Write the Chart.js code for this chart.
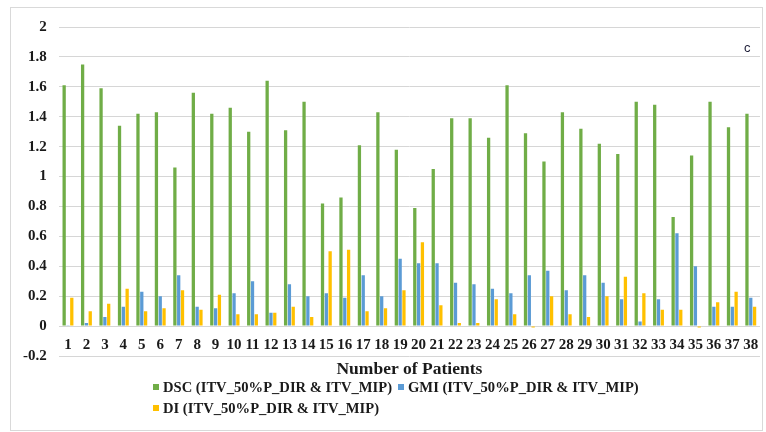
<!DOCTYPE html>
<html>
<head>
<meta charset="utf-8">
<script src="https://cdn.jsdelivr.net/npm/chart.js@4/dist/chart.umd.min.js"></script>
<style>
  html, body { margin: 0; padding: 0; background: #ffffff; }
  #wrap { position: relative; width: 766px; height: 432px; overflow: hidden; background: #ffffff; }
  #frame { position: absolute; left: 10px; top: 7px; width: 753px; height: 424px; border: 1px solid #d9d9d9; box-sizing: border-box; pointer-events: none; }
  canvas { position: absolute; left: 0; top: 0; }
  .lg { position: absolute; display: flex; align-items: center; white-space: nowrap;
        font: bold 14.6px "Liberation Serif", "Times New Roman", serif; line-height: 16px; color: #1a1a1a; }
  .lg i { display: inline-block; width: 6px; height: 6px; margin-right: 4px; }
  #tag { position: absolute; left: 744px; top: 40px; font: 13px "Liberation Sans", Arial, sans-serif; line-height: 15px; color: #1c1c36; }
</style>
</head>
<body>
<div id="wrap">
  <div id="frame"></div>
  <canvas id="chart" width="766" height="432"></canvas>
  <div id="tag">c</div>
</div>
<script>
// Patient numbers along the category axis
const patients = ['1','2','3','4','5','6','7','8','9','10','11','12','13','14','15','16','17','18','19',
                  '20','21','22','23','24','25','26','27','28','29','30','31','32','33','34','35','36','37','38'];

// Dice similarity coefficient per patient
const dsc = [1.61, 1.75, 1.59, 1.34, 1.42, 1.43, 1.06, 1.56, 1.42, 1.46, 1.30, 1.64, 1.31, 1.50, 0.82, 0.86, 1.21, 1.43, 1.18,
             0.79, 1.05, 1.39, 1.39, 1.26, 1.61, 1.29, 1.10, 1.43, 1.32, 1.22, 1.15, 1.50, 1.48, 0.73, 1.14, 1.50, 1.33, 1.42];

// Geographical miss index per patient
const gmi = [0.005, 0.02, 0.06, 0.13, 0.23, 0.20, 0.34, 0.13, 0.12, 0.22, 0.30, 0.09, 0.28, 0.20, 0.22, 0.19, 0.34, 0.20, 0.45,
             0.42, 0.42, 0.29, 0.28, 0.25, 0.22, 0.34, 0.37, 0.24, 0.34, 0.29, 0.18, 0.03, 0.18, 0.62, 0.40, 0.13, 0.13, 0.19];

// Discordance index per patient
const di = [0.19, 0.10, 0.15, 0.25, 0.10, 0.12, 0.24, 0.11, 0.21, 0.08, 0.08, 0.09, 0.13, 0.06, 0.50, 0.51, 0.10, 0.12, 0.24,
            0.56, 0.14, 0.02, 0.02, 0.18, 0.08, -0.01, 0.20, 0.08, 0.06, 0.20, 0.33, 0.22, 0.11, 0.11, -0.01, 0.16, 0.23, 0.13];

// Series names
const seriesNames = ['DSC (ITV_50%P_DIR & ITV_MIP)', 'GMI (ITV_50%P_DIR & ITV_MIP)', 'DI (ITV_50%P_DIR & ITV_MIP)'];

// Value axis ticks
const yMin = -0.2, yMax = 2, yStep = 0.2;

const colors = ['#70AD47', '#5B9BD5', '#FFC000'];
const serif = '"Liberation Serif", "Times New Roman", serif';

const chart = new Chart(document.getElementById('chart'), {
  type: 'bar',
  data: {
    labels: patients,
    datasets: [dsc, gmi, di].map((values, i) => ({
      label: seriesNames[i],
      data: values,
      backgroundColor: colors[i],
      borderWidth: 0,
      barPercentage: 0.86,
      categoryPercentage: 0.62
    }))
  },
  options: {
    responsive: false,
    animation: false,
    devicePixelRatio: 1,
    layout: { padding: { left: 11, right: 6, top: 27, bottom: 76 } },
    plugins: {
      legend: { display: false },
      tooltip: { enabled: false }
    },
    scales: {
      x: {
        position: { y: 0 },
        grid: { display: false },
        border: { display: false },
        ticks: {
          color: '#1a1a1a',
          font: { family: serif, size: 15, weight: 'bold' },
          padding: 2,
          maxRotation: 0,
          autoSkip: false
        },
        title: {
          display: true,
          text: 'Number of Patients',
          color: '#1a1a1a',
          font: { family: serif, size: 17.5, weight: 'bold' },
          padding: { top: 3, bottom: 0 }
        }
      },
      y: {
        min: yMin,
        max: yMax,
        border: { display: false },
        grid: { color: '#d6d6d6', lineWidth: 1, drawTicks: false },
        ticks: {
          stepSize: yStep,
          padding: 12,
          color: '#1a1a1a',
          font: { family: serif, size: 15, weight: 'bold' },
          callback: v => String(Math.round(v * 10) / 10)
        }
      }
    }
  }
});

// Legend laid out in two rows beneath the axis title
const legendSpots = [[153, 379], [398, 379], [153, 400]];
chart.data.datasets.forEach((ds, i) => {
  const item = document.createElement('div');
  item.className = 'lg';
  item.style.left = legendSpots[i][0] + 'px';
  item.style.top = legendSpots[i][1] + 'px';
  const box = document.createElement('i');
  box.style.background = ds.backgroundColor;
  item.appendChild(box);
  item.appendChild(document.createTextNode(ds.label));
  document.getElementById('wrap').appendChild(item);
});
</script>
</body>
</html>
